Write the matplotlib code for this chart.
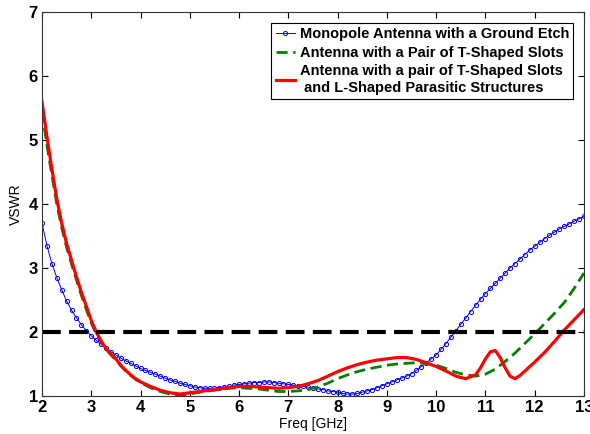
import matplotlib
matplotlib.use("Agg")
import matplotlib.pyplot as plt
import numpy as np

plt.rcParams['font.family'] = ['Liberation Sans', 'DejaVu Sans']

# blue: monopole with ground etch, sampled every 0.1 GHz
freq_blue = np.round(np.arange(2.0, 13.01, 0.1), 1)
vswr_blue = [3.70, 3.35, 3.07, 2.85, 2.66, 2.48, 2.34, 2.22, 2.11, 2.02,
             1.94, 1.87, 1.81, 1.75, 1.69, 1.64, 1.59, 1.55, 1.51, 1.47,
             1.43, 1.40, 1.37, 1.34, 1.31, 1.28, 1.25, 1.23, 1.20, 1.18,
             1.16, 1.14, 1.13, 1.12, 1.12, 1.12, 1.13, 1.14, 1.15, 1.17,
             1.18, 1.19, 1.20, 1.21, 1.21, 1.22, 1.22, 1.21, 1.20, 1.19,
             1.18, 1.17, 1.16, 1.15, 1.14, 1.12, 1.11, 1.10, 1.08, 1.07,
             1.06, 1.04, 1.03, 1.03, 1.04, 1.06, 1.08, 1.10, 1.13, 1.16,
             1.19, 1.22, 1.25, 1.28, 1.31, 1.35, 1.40, 1.46, 1.52, 1.58,
             1.64, 1.73, 1.82, 1.92, 2.02, 2.12, 2.22, 2.32, 2.42, 2.51,
             2.60, 2.68, 2.76, 2.84, 2.92, 3.00, 3.07, 3.14, 3.21, 3.28,
             3.34, 3.40, 3.46, 3.51, 3.56, 3.61, 3.65, 3.69, 3.73, 3.77,
             3.81]

# green: pair of T-shaped slots
freq_green = [2.0, 2.1, 2.2, 2.3, 2.4, 2.5, 2.6, 2.7, 2.8, 2.9, 3.0, 3.1, 3.2, 3.3,
              3.4, 3.5, 3.6, 3.7, 3.8, 3.9, 4.0, 4.2, 4.4, 4.6, 4.8, 5.0, 5.2, 5.4,
              5.6, 5.8, 6.0, 6.2, 6.4, 6.6, 6.8, 7.0, 7.2, 7.4, 7.6, 7.8, 8.0, 8.2,
              8.4, 8.6, 8.8, 9.0, 9.2, 9.4, 9.6, 9.8, 10.0, 10.2, 10.4, 10.6, 10.8,
              11.0, 11.2, 11.4, 11.6, 11.8, 12.0, 12.2, 12.4, 12.6, 12.8, 13.0]
vswr_green = [5.45, 4.92, 4.45, 4.00, 3.63, 3.32, 3.06, 2.81, 2.57, 2.35, 2.14, 1.97,
              1.84, 1.73, 1.64, 1.56, 1.47, 1.39, 1.32, 1.26, 1.21, 1.13, 1.07, 1.03,
              1.01, 1.03, 1.06, 1.08, 1.10, 1.12, 1.13, 1.12, 1.11, 1.09, 1.07, 1.07,
              1.08, 1.10, 1.14, 1.20, 1.27, 1.33, 1.38, 1.42, 1.45, 1.48, 1.50, 1.51,
              1.52, 1.51, 1.48, 1.43, 1.37, 1.33, 1.31, 1.34, 1.42, 1.54, 1.67, 1.82,
              1.97, 2.13, 2.29, 2.46, 2.68, 2.92]

# red: T-shaped slots + L-shaped parasitic structures
freq_red = [2.0, 2.1, 2.2, 2.3, 2.4, 2.5, 2.6, 2.7, 2.8, 2.9, 3.0, 3.1, 3.2, 3.3,
            3.4, 3.5, 3.6, 3.7, 3.8, 3.9, 4.0, 4.2, 4.4, 4.6, 4.8, 5.0, 5.2, 5.4,
            5.6, 5.8, 6.0, 6.2, 6.4, 6.6, 6.8, 7.0, 7.2, 7.4, 7.6, 7.8, 8.0, 8.2,
            8.4, 8.6, 8.8, 9.0, 9.2, 9.4, 9.6, 9.8, 10.0, 10.2, 10.4, 10.6, 10.8,
            10.9, 11.0, 11.1, 11.2, 11.3, 11.4, 11.5, 11.6, 11.7, 11.8, 12.0, 12.2,
            12.4, 12.6, 12.8, 13.0]
vswr_red = [5.60, 5.05, 4.55, 4.08, 3.70, 3.38, 3.12, 2.86, 2.62, 2.40, 2.18, 2.00,
            1.86, 1.74, 1.66, 1.58, 1.48, 1.40, 1.33, 1.27, 1.22, 1.15, 1.09, 1.05,
            1.03, 1.05, 1.07, 1.09, 1.11, 1.13, 1.15, 1.15, 1.14, 1.13, 1.12, 1.13,
            1.15, 1.19, 1.24, 1.31, 1.38, 1.44, 1.49, 1.53, 1.56, 1.58, 1.60, 1.60,
            1.57, 1.52, 1.46, 1.39, 1.31, 1.27, 1.33, 1.44, 1.58, 1.69, 1.71, 1.60,
            1.44, 1.31, 1.27, 1.32, 1.39, 1.53, 1.68, 1.85, 2.03, 2.19, 2.35]

labels = ["Monopole Antenna with a Ground Etch",
          "Antenna with a Pair of T-Shaped Slots",
          "Antenna with a pair of T-Shaped Slots\n and L-Shaped Parasitic Structures"]
vswr_limit = 2

fig = plt.figure(figsize=(5.9, 4.34), dpi=100)
ax = fig.add_axes([0.0712, 0.0876, 0.9186, 0.8848])

ax.plot(freq_blue, vswr_blue, color="blue", lw=0.7, marker="o", ms=3.0,
        mfc="none", mew=0.7, label=labels[0])
ax.plot(freq_green, vswr_green, color="green", lw=2, ls=(0, (4, 2)), label=labels[1])
ax.plot(freq_red, vswr_red, color="red", lw=2.3, label=labels[2])
ax.plot([2, 13], [vswr_limit, vswr_limit], color="black", lw=3, ls=(0, (4.5, 2)))

ax.set_xlim(2, 13)
ax.set_ylim(1, 7)
ax.set_xticks(range(2, 14))
ax.set_yticks(range(1, 8))
ax.tick_params(direction="in", top=True, right=True, length=4, labelsize=12, pad=3)
for t in ax.get_xticklabels() + ax.get_yticklabels():
    t.set_fontweight("bold")
for s in ax.spines.values():
    s.set_linewidth(0.8)
    s.set_color("#333333")

ax.set_xlabel("Freq [GHz]", fontsize=10, labelpad=1)
ax.set_ylabel("VSWR", fontsize=10, labelpad=4)

leg = ax.legend(loc="upper right", bbox_to_anchor=(0.9805, 0.972), fancybox=False,
                framealpha=1, edgecolor="black", handlelength=1.3, handletextpad=0.35,
                borderpad=0.3, labelspacing=0.32, borderaxespad=0,
                prop={"weight": "bold", "size": 10.5})
leg.get_frame().set_linewidth(0.8)

fig.savefig("out.png", dpi=100)
